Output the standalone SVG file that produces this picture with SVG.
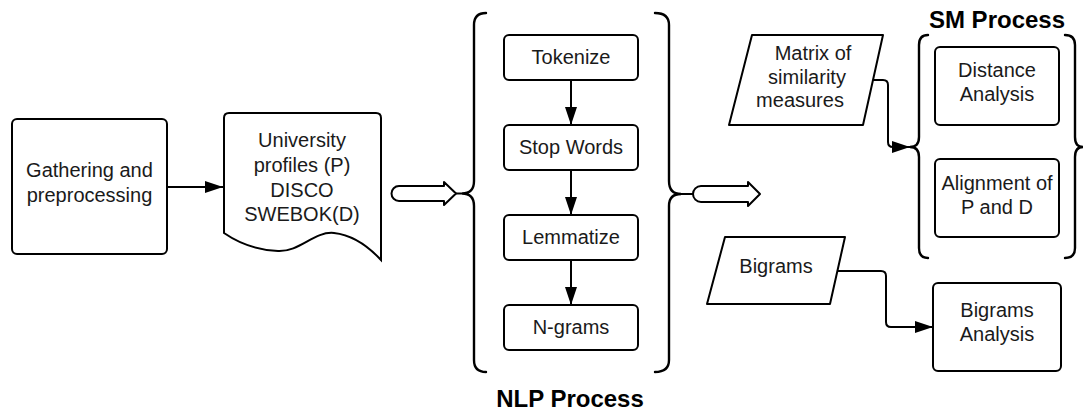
<svg xmlns="http://www.w3.org/2000/svg" width="1084" height="414" viewBox="0 0 1084 414">
  <style>
    .box { fill: #ffffff; stroke: #000000; stroke-width: 2; }
    .line { fill: none; stroke: #000000; stroke-width: 2; }
    .brace { fill: none; stroke: #000000; stroke-width: 2.4; stroke-linecap: round; }
    .hollow { fill: #ffffff; stroke: #000000; stroke-width: 2; stroke-linejoin: round; }
    .lbl { font-family: "Liberation Sans", Arial, sans-serif; font-size: 20px; fill: #1a1a1a; text-anchor: middle; }
    .title { font-family: "Liberation Sans", Arial, sans-serif; font-size: 24px; font-weight: bold; fill: #000000; text-anchor: middle; }
  </style>
  <defs>
    <marker id="arrow" viewBox="0 0 18 12" refX="18" refY="6" markerWidth="18" markerHeight="12" markerUnits="userSpaceOnUse" orient="auto">
      <path d="M0,0 L18,6 L0,12 Z" fill="#000000"/>
    </marker>
  </defs>

  <rect width="1084" height="414" fill="#ffffff"/>

  <!-- connectors -->
  <g id="connectors">
    <line class="line" x1="167" y1="187" x2="223" y2="187" marker-end="url(#arrow)"/>
    <line class="line" x1="571" y1="80" x2="571" y2="125" marker-end="url(#arrow)"/>
    <line class="line" x1="571" y1="170" x2="571" y2="215" marker-end="url(#arrow)"/>
    <line class="line" x1="571" y1="260" x2="571" y2="305" marker-end="url(#arrow)"/>
    <path class="line" d="M873,80 H883 Q888,80 888,85 V142 Q888,147 893,147 H910" marker-end="url(#arrow)"/>
    <path class="line" d="M837,271 H881 Q886,271 886,276 V322 Q886,327 891,327 H933" marker-end="url(#arrow)"/>
    <!-- hollow block arrows into and out of the NLP stage -->
    <line class="line" x1="454" y1="193.5" x2="462" y2="193.5"/>
    <path class="hollow" d="M399,186 H444 V182 L456,193.5 L444,205 V201 H399 A7.5,7.5 0 0 1 399,186 Z"/>
    <line class="line" x1="681" y1="194" x2="694" y2="194"/>
    <path class="hollow" d="M701,186 H748 V182 L760,194 L748,206 V202 H701 A8,8 0 0 1 701,186 Z"/>
  </g>

  <!-- gathering step -->
  <g id="gathering">
    <rect class="box" x="12" y="119" width="155" height="135" rx="5"/>
    <text class="lbl" x="89.5" y="177">Gathering and</text>
    <text class="lbl" x="89.5" y="202">preprocessing</text>
  </g>

  <!-- source documents -->
  <g id="documents">
    <path class="box" d="M229,113 H376 Q381,113 381,118 V260 C368,246 352,235 334,233 C314,231 300,252 278,251 C256,250 240,244 224,233 V118 Q224,113 229,113 Z"/>
    <text class="lbl" x="302" y="147">University</text>
    <text class="lbl" x="302" y="172">profiles (P)</text>
    <text class="lbl" x="302" y="197">DISCO</text>
    <text class="lbl" x="302" y="221">SWEBOK(D)</text>
  </g>

  <!-- NLP process -->
  <g id="nlp-process">
    <path class="brace" d="M486,13 Q474,13 474,25 V181 Q474,193.5 462,193.5 Q474,193.5 474,206 V360 Q474,372 486,372"/>
    <path class="brace" d="M655,13 Q669,13 669,25 V181 Q669,194 681,194 Q669,194 669,206 V360 Q669,372 655,372"/>
    <text class="title" x="570" y="407">NLP Process</text>
  </g>
  <g id="tokenize">
    <rect class="box" x="504" y="35" width="134" height="45" rx="5"/>
    <text class="lbl" x="571" y="64">Tokenize</text>
  </g>
  <g id="stop-words">
    <rect class="box" x="504" y="125" width="134" height="45" rx="5"/>
    <text class="lbl" x="571" y="154">Stop Words</text>
  </g>
  <g id="lemmatize">
    <rect class="box" x="504" y="215" width="134" height="45" rx="5"/>
    <text class="lbl" x="571" y="244">Lemmatize</text>
  </g>
  <g id="n-grams">
    <rect class="box" x="504" y="305" width="134" height="45" rx="5"/>
    <text class="lbl" x="571" y="334">N-grams</text>
  </g>

  <!-- similarity matrix input -->
  <g id="matrix">
    <polygon class="box" stroke-linejoin="round" points="752,35 883,35 863,125 729,125"/>
    <text class="lbl" x="813" y="60">Matrix of</text>
    <text class="lbl" x="807" y="84">similarity</text>
    <text class="lbl" x="800" y="107">measures</text>
  </g>

  <!-- SM process -->
  <g id="sm-process">
    <path class="brace" d="M928,35 Q919,35 919,45 V137 Q919,147 910,147 Q919,147 919,157 V248 Q919,258 928,258"/>
    <path class="brace" d="M1065,35 Q1075,35 1075,45 V137 Q1075,147 1083,147 Q1075,147 1075,157 V248 Q1075,258 1065,258"/>
    <text class="title" x="997" y="28">SM Process</text>
  </g>
  <g id="distance-analysis">
    <rect class="box" x="935" y="47" width="124" height="78" rx="5"/>
    <text class="lbl" x="997" y="77">Distance</text>
    <text class="lbl" x="997" y="101">Analysis</text>
  </g>
  <g id="alignment">
    <rect class="box" x="935" y="159" width="124" height="78" rx="5"/>
    <text class="lbl" x="997" y="190">Alignment of</text>
    <text class="lbl" x="997" y="214">P and D</text>
  </g>

  <!-- bigrams input and analysis -->
  <g id="bigrams">
    <polygon class="box" stroke-linejoin="round" points="725,237 845,237 830,304 707,304"/>
    <text class="lbl" x="776" y="273">Bigrams</text>
  </g>
  <g id="bigrams-analysis">
    <rect class="box" x="933" y="283" width="128" height="88" rx="5"/>
    <text class="lbl" x="997" y="317">Bigrams</text>
    <text class="lbl" x="997" y="341">Analysis</text>
  </g>
</svg>
